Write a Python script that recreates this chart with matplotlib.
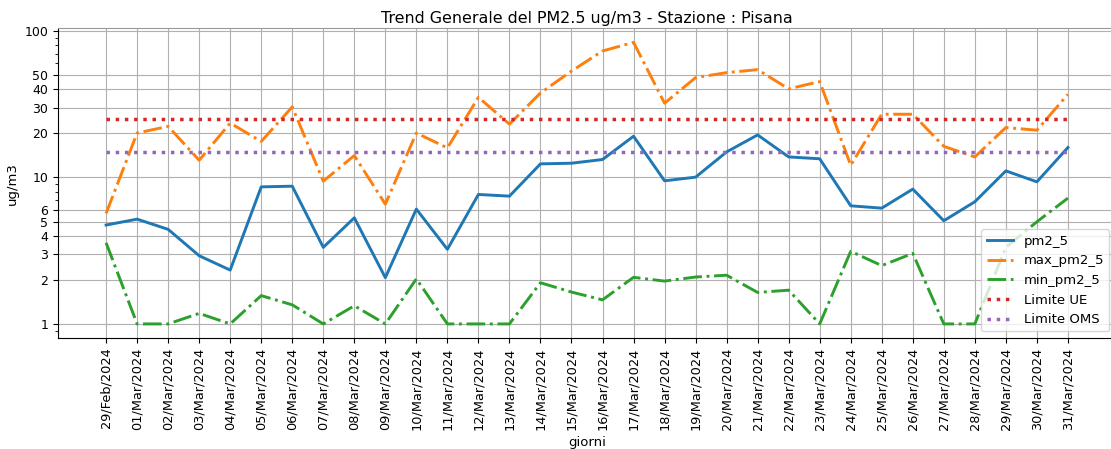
import matplotlib
matplotlib.use("Agg")
import matplotlib.pyplot as plt
from matplotlib.ticker import FixedLocator, FixedFormatter, LogLocator, NullFormatter

days = ["29/Feb/2024"] + [f"{d:02d}/Mar/2024" for d in range(1, 32)]

pm2_5 = [4.73, 5.19, 4.42, 2.92, 2.33, 8.62, 8.71, 3.33, 5.30, 2.07,
         6.08, 3.23, 7.65, 7.45, 12.37, 12.5, 13.25, 19.1, 9.48, 10.04,
         14.93, 19.5, 13.8, 13.4, 6.40, 6.17, 8.32, 5.06, 6.82, 11.08,
         9.33, 16.0]
max_pm2_5 = [5.68, 20.1, 22.3, 13.1, 23.5, 17.6, 30.3, 9.43, 14.1, 6.57,
             20.1, 15.9, 35.2, 23.1, 37.7, 53.2, 72.9, 83.5, 32.1, 48.0,
             51.9, 54.4, 40.2, 45.1, 12.1, 27.0, 27.0, 16.3, 13.8, 21.9,
             21.0, 36.9]
min_pm2_5 = [3.58, 1.0, 1.0, 1.18, 1.0, 1.56, 1.35, 1.0, 1.33, 1.0,
             2.03, 1.0, 1.0, 1.0, 1.91, 1.65, 1.46, 2.08, 1.96, 2.09,
             2.15, 1.64, 1.70, 1.0, 3.13, 2.50, 3.03, 1.0, 1.0, 3.33,
             4.98, 7.22]
limite_ue = 25
limite_oms = 15

yticks = [1, 2, 3, 4, 5, 6, 10, 20, 30, 40, 50, 100]

fig = plt.figure(figsize=(11.11, 4.49), dpi=100)
ax = fig.add_axes([58/1111, 1-338/449, (1116-58)/1111, (338-28.3)/449])

x = list(range(len(days)))
ax.plot(x, pm2_5, color="tab:blue", lw=2.1, ls="-", label="pm2_5")
ax.plot(x, max_pm2_5, color="tab:orange", lw=2.1, ls="-.", label="max_pm2_5")
ax.plot(x, min_pm2_5, color="tab:green", lw=2.1, ls="-.", label="min_pm2_5")
ax.plot(x, [limite_ue]*len(x), color="tab:red", lw=2.5, ls=":", label="Limite UE")
ax.plot(x, [limite_oms]*len(x), color="tab:purple", lw=2.5, ls=":", label="Limite OMS")

ax.set_yscale("log")
ax.yaxis.set_major_locator(FixedLocator(yticks))
ax.yaxis.set_major_formatter(FixedFormatter([str(v) for v in yticks]))
ax.yaxis.set_minor_locator(LogLocator(base=10, subs=range(2, 10)))
ax.yaxis.set_minor_formatter(NullFormatter())

ax.set_xticks(x)
ax.set_xticklabels(days, rotation=90, fontsize=9.3)
ax.tick_params(axis="y", labelsize=9)
ax.grid(True, which="major", color="#b0b0b0", lw=0.8)

ax.spines["top"].set_color("#999999")
ax.spines["right"].set_visible(False)

ax.set_title("Trend Generale del PM2.5 ug/m3 - Stazione : Pisana", fontsize=11.4, pad=4)
ax.set_xlabel("giorni", fontsize=9.5)
ax.set_ylabel("ug/m3", fontsize=9.5)
ax.legend(loc="lower right", fontsize=9.5)

fig.savefig("out.png", dpi=100)
